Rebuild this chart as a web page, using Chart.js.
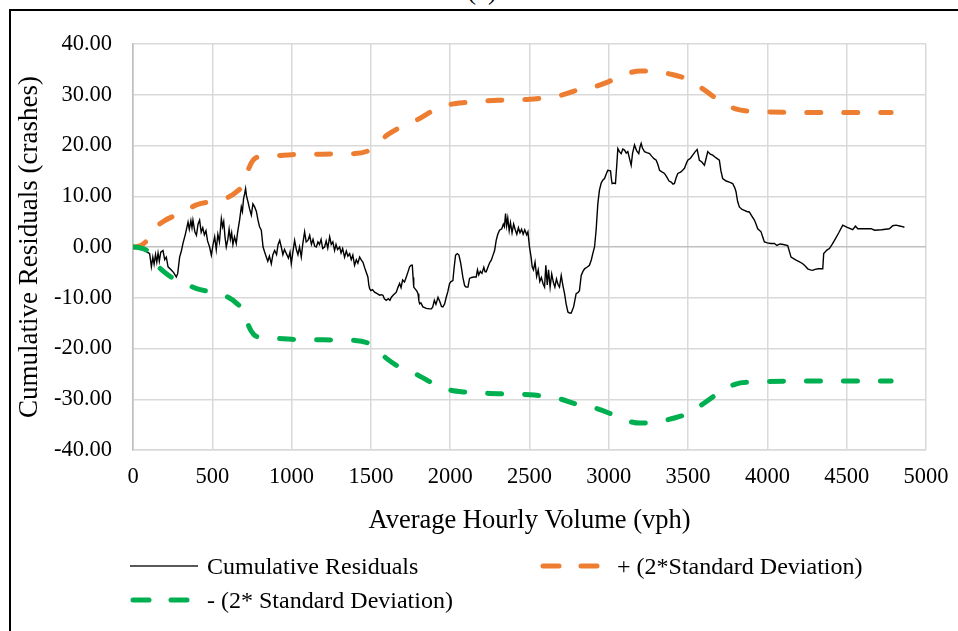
<!DOCTYPE html>
<html>
<head>
<meta charset="utf-8">
<script src="https://cdn.jsdelivr.net/npm/chart.js@4.4.1/dist/chart.umd.min.js"></script>
<style>
  html, body { margin:0; padding:0; background:#fff; }
  body { width:958px; height:631px; position:relative; overflow:hidden; font-family:"Liberation Serif","Times New Roman",serif; color:#000; }
  #frame { position:absolute; left:9px; top:9px; width:1000px; height:700px; border-left:2px solid #000; border-top:2px solid #000; }
  #title { position:absolute; left:432px; width:100px; top:-25px; text-align:center; font-size:27px; line-height:30px; }
  canvas { position:absolute; left:0; top:0; }
  .lg { position:absolute; font-size:24px; line-height:30px; white-space:nowrap; }
  svg { position:absolute; left:0; top:0; }
</style>
</head>
<body>
<div id="title">(a)</div>
<div id="frame"></div>
<canvas id="c" width="958" height="631"></canvas>
<svg width="958" height="631">
  <line x1="130" y1="566" x2="198" y2="566" stroke="#222" stroke-width="1.6"/>
  <line x1="543" y1="566" x2="600" y2="566" stroke="#ED7D31" stroke-width="5" stroke-linecap="round" stroke-dasharray="16 22"/>
  <line x1="133" y1="600" x2="190" y2="600" stroke="#00B050" stroke-width="5" stroke-linecap="round" stroke-dasharray="16 22"/>
</svg>
<div class="lg" style="left:207px; top:551px;">Cumulative Residuals</div>
<div class="lg" style="left:617px; top:551px;">+ (2*Standard Deviation)</div>
<div class="lg" style="left:207px; top:585px;">- (2* Standard Deviation)</div>
<script>
// ---- data ----
const resX = [0,30,60,90,105,116,125,133,142,150,158,166,175,189,200,210,221,240,255,273,282,294,305,315,330,347,355,365,372,378,390,400,410,420,430,440,450,460,470,483,494,505,515,525,535,545,557,565,572,580,588,598,606,614,622,630,640,651,660,672,683,690,697,704,710,716,725,735,746,756,767,778,788,798,809,820,830,841,850,860,872,882,893,905,915,925,935,945,955,967,980,990,998,1008,1019,1030,1040,1050,1061,1070,1082,1092,1103,1114,1125,1135,1145,1156,1166,1176,1186,1196,1208,1218,1228,1240,1250,1260,1271,1280,1290,1303,1312,1322,1334,1345,1355,1366,1376,1386,1397,1408,1418,1429,1440,1450,1465,1481,1487,1492,1500,1510,1523,1540,1555,1566,1576,1585,1597,1610,1620,1629,1640,1650,1660,1670,1681,1690,1700,1712,1723,1735,1744,1754,1761,1766,1770,1780,1790,1797,1802,1807,1815,1828,1850,1870,1881,1890,1900,1910,1923,1935,1945,1954,1965,1975,1985,1996,2005,2017,2025,2034,2045,2055,2065,2070,2080,2091,2100,2112,2122,2135,2150,2164,2172,2180,2190,2200,2212,2220,2227,2240,2250,2259,2270,2280,2290,2300,2311,2325,2335,2342,2349,2356,2363,2372,2380,2390,2400,2410,2420,2430,2440,2450,2460,2470,2482,2490,2500,2510,2517,2525,2535,2545,2555,2565,2575,2585,2595,2603,2612,2620,2630,2640,2650,2660,2670,2680,2689,2700,2710,2721,2731,2742,2752,2763,2778,2786,2794,2805,2815,2826,2837,2847,2862,2878,2890,2899,2910,2920,2931,2941,2952,2963,2973,2985,2994,3011,3016,3021,3032,3042,3050,3057,3067,3078,3088,3099,3110,3120,3130,3141,3150,3162,3175,3189,3196,3204,3212,3225,3240,3257,3270,3285,3299,3310,3320,3335,3351,3365,3380,3393,3405,3414,3425,3435,3455,3477,3488,3498,3515,3529,3545,3557,3565,3571,3585,3603,3610,3624,3640,3655,3675,3697,3707,3718,3740,3760,3781,3795,3802,3812,3823,3840,3855,3870,3886,3900,3918,3930,3939,3960,3970,3981,4000,4020,4044,4060,4080,4100,4128,4140,4149,4165,4181,4200,4223,4240,4254,4270,4286,4300,4320,4340,4349,4355,4375,4391,4410,4423,4450,4475,4500,4538,4555,4570,4610,4654,4675,4720,4769,4790,4811,4840,4864];
const resY = [0,0.2,-0.5,-1.0,-1.3,-3.9,-2.0,-3.4,-1.5,-3.0,-1.2,-2.8,-1.0,-0.7,-2.5,-2.0,-3.9,-4.5,-5.0,-5.9,-5.2,-2.0,-0.8,0.7,2.5,4.9,3.5,5.2,3.8,5.3,3.0,2.3,4.5,5.3,2.9,3.8,2.4,3.2,1.2,0.0,-1.6,0.5,2.0,-0.5,2.5,1.0,5.6,4.0,5.0,2.0,0.0,1.5,3.5,1.5,2.8,0.5,2.0,0.7,3.0,5.3,7.9,7.0,9.5,10.5,11.5,10.0,8.9,7.5,6.3,8.5,7.9,7.0,5.3,4.0,3.3,0.0,-1.0,-2.0,-2.8,-1.8,-3.3,-1.5,-0.7,-1.5,0.5,1.3,0.0,-1.5,-0.5,-1.3,-2.2,-1.0,-3.3,-1.0,1.3,-0.5,-1.5,0.0,-2.0,0.5,3.0,1.0,1.3,2.3,0.5,1.5,0.2,0.0,1.0,0.5,1.5,-0.3,0.0,1.2,-0.2,2.0,0.5,1.0,-0.7,0.5,-0.5,0.0,-1.2,-0.3,-2.0,-0.8,-1.8,-1.3,-2.5,-1.6,-3.6,-2.5,-3.2,-2.0,-2.6,-3.0,-4.5,-5.9,-7.5,-8.2,-8.6,-8.4,-8.9,-9.2,-9.5,-9.4,-9.5,-10.2,-10.5,-10.2,-10.5,-9.9,-9.5,-9.2,-8.9,-8.0,-7.2,-8.0,-6.5,-6.9,-5.9,-4.8,-3.9,-3.6,-3.6,-6.0,-7.9,-8.3,-8.7,-9.2,-10.5,-11.2,-11.0,-11.8,-12.1,-12.2,-12.2,-11.8,-10.5,-11.3,-9.9,-10.8,-11.7,-11.8,-11.2,-9.9,-8.8,-7.2,-6.8,-6.6,-4.0,-1.6,-1.3,-1.6,-3.0,-3.9,-6.0,-7.6,-7.9,-7.9,-6.2,-6.0,-5.9,-5.9,-4.5,-5.5,-4.8,-5.2,-4.0,-4.9,-4.9,-3.8,-3.0,-2.6,-1.6,-0.7,1.3,2.5,3.3,3.6,4.5,4.0,6.6,4.2,5.7,3.2,4.8,2.8,4.5,3.4,2.5,3.8,2.8,3.5,2.5,3.4,2.4,3.0,0.0,-2.0,-3.9,-4.5,-3.0,-5.8,-4.5,-6.8,-6.0,-7.2,-7.9,-3.6,-7.5,-4.5,-7.9,-5.3,-6.9,-7.9,-6.3,-7.4,-7.9,-5.6,-7.5,-9.2,-11.2,-12.8,-13.0,-13.0,-11.8,-10.5,-9.2,-9.0,-8.6,-5.6,-4.8,-4.3,-4.0,-3.6,-2.5,-1.3,0.0,3.3,8.6,11.2,12.6,13.2,13.5,14.5,15.1,15.0,13.5,12.5,12.6,12.5,16.0,19.4,18.8,18.4,19.3,19.1,18.5,18.8,17.5,16.1,18.5,20.1,19.0,18.4,19.6,20.4,19.5,18.8,18.6,18.4,17.9,17.4,17.1,16.2,15.1,14.8,14.5,13.8,13.0,12.8,12.4,12.5,13.7,14.5,14.8,15.5,16.4,17.1,17.5,18.1,18.8,19.2,18.0,17.1,16.8,16.1,17.0,18.8,18.3,18.1,17.6,17.1,15.0,13.5,13.0,12.8,12.5,11.6,10.9,9.0,7.9,7.4,7.2,7.0,6.9,6.2,5.3,4.4,3.6,3.0,2.0,1.0,0.8,0.7,0.7,0.3,0.6,0.5,0.3,-1.0,-2.0,-2.3,-2.6,-2.9,-3.3,-3.8,-4.3,-4.5,-4.6,-4.4,-4.3,-4.3,-4.3,-1.3,-0.6,-0.3,0.6,1.3,2.8,4.3,3.9,3.4,4.1,3.6,3.6,3.6,3.3,3.4,3.6,4.2,4.3,4.1,3.9];

const bandX   = [0,50,100,150,200,250,300,400,500,600,650,700,730,760,800,900,1000,1200,1400,1500,1550,1600,1700,1800,1900,2000,2100,2300,2500,2600,2700,2800,2900,3000,3100,3200,3300,3400,3500,3600,3700,3800,3900,4000,4200,4500,4780];
const upperSD = [0,0.3,1.7,4.0,5.2,6.0,6.6,8.3,9.0,9.8,10.8,12.6,15.5,17.2,17.8,18.0,18.2,18.3,18.4,19.2,20.5,22.0,23.8,25.2,27.0,28.1,28.5,28.9,29.1,29.4,29.9,30.9,31.5,32.6,34.0,34.7,34.5,34.0,33.0,31.0,28.8,27.2,26.7,26.6,26.5,26.5,26.5];
const lowerSD = [0,-0.2,-1.0,-3.5,-5.0,-6.1,-6.7,-8.2,-8.9,-9.9,-11.0,-12.8,-15.6,-17.2,-17.8,-18.0,-18.2,-18.3,-18.4,-19.2,-20.5,-22.0,-24.0,-25.3,-27.0,-28.2,-28.6,-28.9,-29.1,-29.4,-30.0,-31.0,-31.6,-32.7,-34.1,-34.7,-34.5,-33.8,-32.8,-30.8,-28.6,-27.0,-26.6,-26.5,-26.4,-26.4,-26.4];

const xTickStep = 500, xMin = 0, xMax = 5000;
const yTickStep = 10, yMin = -40, yMax = 40;
const seriesNames = ['Cumulative Residuals', '+ (2*Standard Deviation)', '- (2* Standard Deviation)'];

// ---- chart ----
const pts = (xs, ys) => xs.map((x, i) => ({ x: x, y: ys[i] }));
const serif = 'Liberation Serif';

new Chart(document.getElementById('c'), {
  type: 'line',
  data: {
    datasets: [
      { label: seriesNames[0], data: pts(resX, resY), borderColor: '#000', borderWidth: 1.4,
        pointRadius: 0, tension: 0, order: 2 },
      { label: seriesNames[1], data: pts(bandX, upperSD), borderColor: '#ED7D31', borderWidth: 5,
        borderDash: [14, 23], borderCapStyle: 'round', pointRadius: 0,
        cubicInterpolationMode: 'monotone', order: 1 },
      { label: seriesNames[2], data: pts(bandX, lowerSD), borderColor: '#00B050', borderWidth: 5,
        borderDash: [14, 23], borderCapStyle: 'round', pointRadius: 0,
        cubicInterpolationMode: 'monotone', order: 0 }
    ]
  },
  options: {
    responsive: false,
    animation: false,
    layout: { padding: { top: 44, right: 32, bottom: 91, left: 0 } },
    plugins: { legend: { display: false }, tooltip: { enabled: false } },
    scales: {
      x: {
        type: 'linear', min: xMin, max: xMax,
        ticks: { stepSize: xTickStep, autoSkip: false, maxRotation: 0, padding: 14,
                 color: '#000', font: { family: serif, size: 22.5 },
                 callback: v => String(v) },
        grid: { color: c => (c.tick && c.tick.value === 0) ? '#bfbfbf' : '#d9d9d9', lineWidth: 1.5, drawTicks: false },
        border: { display: true, color: '#d9d9d9', width: 1.5 },
        title: { display: true, text: 'Average Hourly Volume (vph)', color: '#000',
                 font: { family: serif, size: 26.5 }, padding: { top: 0, bottom: 3 } },
        afterFit: s => { s.height = 90; s.paddingRight = 0; s.paddingLeft = 0; }
      },
      y: {
        type: 'linear', min: yMin, max: yMax,
        ticks: { stepSize: yTickStep, padding: 21, color: '#000',
                 font: { family: serif, size: 22.5 },
                 callback: v => Number(v).toFixed(2) },
        grid: { color: c => (c.tick && c.tick.value === 0) ? '#bfbfbf' : '#d9d9d9', lineWidth: 1.5, drawTicks: false },
        border: { display: true, color: '#bfbfbf', width: 1.5 },
        title: { display: true, text: 'Cumulative Residuals (crashes)', color: '#000',
                 font: { family: serif, size: 27 }, padding: { top: 14, bottom: 0 } },
        afterFit: s => { s.width = 133; s.paddingTop = 0; s.paddingBottom = 0; }
      }
    }
  }
});
</script>
</body>
</html>
